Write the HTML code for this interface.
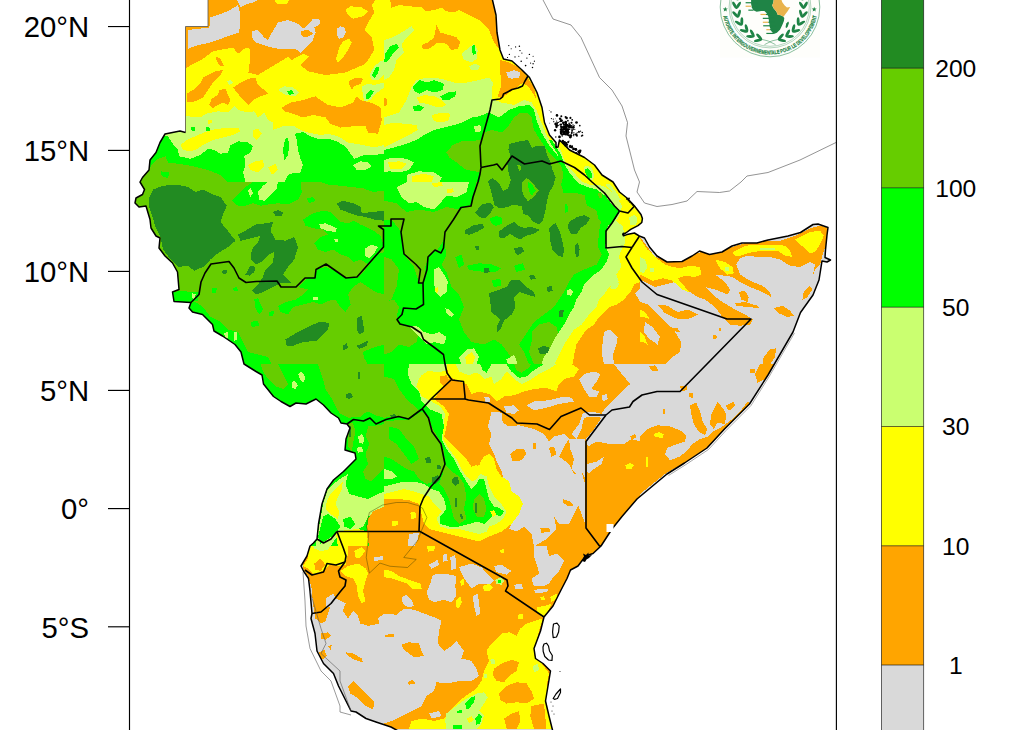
<!DOCTYPE html>
<html><head><meta charset="utf-8"><title>Rainfall map</title>
<style>
html,body{margin:0;padding:0;background:#fff}
body{width:1024px;height:730px;overflow:hidden}
svg{display:block}
text{font-family:"Liberation Sans",sans-serif;fill:#000}
</style></head><body>
<svg width="1024" height="730" viewBox="0 0 1024 730">
<rect width="1024" height="730" fill="#fff"/>
<defs><clipPath id="land"><path d="M208,-2 L208,26.5 L185.5,26.5 L185.5,132.5 L180,131 L165,134 L160,142.5 L156,152.5 L150,160 L149,170 L142.5,177.5 L140,182 L144.5,189.5 L142.5,194.5 L136,198 L135,203 L139,207 L146,206 L150,219.5 L151,228 L156,236 L160,238 L159,248 L165,256 L172.5,263 L177.5,272 L179,289.5 L172.5,292 L174,301.5 L191,302.5 L189,308 L192.5,312 L202.5,314.5 L212.5,324.5 L214,331 L222.5,336 L235,344.5 L241,352 L244,364 L256,371.5 L262,375 L263.5,384 L273.5,396.5 L281,401.5 L290,406.5 L296,403 L306,404 L316,399 L323.5,405 L331,413 L338.5,418 L341,423 L347,424 L350,428 L346,439 L345,450 L355,453 L356,459 L343.5,471.5 L333.5,480 L327,489 L322,504 L318.5,524 L317,539 L313.5,543 L310,546 L307,556 L301,566 L303.5,571 L308.5,578.5 L310,591 L312,613.5 L311,618.5 L315,633.5 L317,651 L323.5,663.5 L333.5,673.5 L338.5,686 L346,701 L351,711 L356,712 L366,718.5 L376,722 L391,727 L400,732 L553,732 L549,716 L545.5,701 L548,686 L550.5,671 L543,663.5 L535.5,658.5 L534,648.5 L540.5,631 L544,617 L553,606 L560.5,591 L567,578.5 L570.5,570 L578,566 L585.5,556 L593,553.5 L601,546 L612,529 L622,516.5 L637,499 L652,486.5 L667,474 L684.5,463 L707,448 L724.5,429 L749.5,404 L768,375 L793,332 L800.5,312.5 L813,295 L819,280 L822,261 L827,262 L830.5,260 L825,257.5 L825.5,250 L827,235 L828,227.5 L818,224 L813,224.5 L800.5,232.5 L788,236 L768,240 L757,243 L742,243 L732,246 L722,252 L709.5,254.5 L699.5,251 L692,256 L682,261.5 L667,262 L657,256 L649.5,247 L644.5,238 L639.3,236 L634.4,233 L627,234.6 L623.5,235.8 L622.7,234.2 L625.8,233 L630.7,229.3 L638,225.6 L641.8,222.5 L642.4,218.5 L641,214.5 L634.5,206 L627,198 L619.5,192 L613,182 L602,175 L594.5,165 L584.5,157.5 L569.5,150 L559.5,140 L558,147 L556,147.5 L556,142.5 L549.5,135 L544.5,122.5 L542,107.5 L537,92.5 L529.5,77.5 L522,70 L512,61 L503.5,59 L500,50 L497,32.5 L496,15 L492,-2 Z"/></clipPath><clipPath id="frame"><rect x="130" y="0" width="707" height="730"/></clipPath></defs>
<g clip-path="url(#frame)">
<path d="M208,-2 L208,26.5 L185.5,26.5 L185.5,132.5 L180,131 L165,134 L160,142.5 L156,152.5 L150,160 L149,170 L142.5,177.5 L140,182 L144.5,189.5 L142.5,194.5 L136,198 L135,203 L139,207 L146,206 L150,219.5 L151,228 L156,236 L160,238 L159,248 L165,256 L172.5,263 L177.5,272 L179,289.5 L172.5,292 L174,301.5 L191,302.5 L189,308 L192.5,312 L202.5,314.5 L212.5,324.5 L214,331 L222.5,336 L235,344.5 L241,352 L244,364 L256,371.5 L262,375 L263.5,384 L273.5,396.5 L281,401.5 L290,406.5 L296,403 L306,404 L316,399 L323.5,405 L331,413 L338.5,418 L341,423 L347,424 L350,428 L346,439 L345,450 L355,453 L356,459 L343.5,471.5 L333.5,480 L327,489 L322,504 L318.5,524 L317,539 L313.5,543 L310,546 L307,556 L301,566 L303.5,571 L308.5,578.5 L310,591 L312,613.5 L311,618.5 L315,633.5 L317,651 L323.5,663.5 L333.5,673.5 L338.5,686 L346,701 L351,711 L356,712 L366,718.5 L376,722 L391,727 L400,732 L553,732 L549,716 L545.5,701 L548,686 L550.5,671 L543,663.5 L535.5,658.5 L534,648.5 L540.5,631 L544,617 L553,606 L560.5,591 L567,578.5 L570.5,570 L578,566 L585.5,556 L593,553.5 L601,546 L612,529 L622,516.5 L637,499 L652,486.5 L667,474 L684.5,463 L707,448 L724.5,429 L749.5,404 L768,375 L793,332 L800.5,312.5 L813,295 L819,280 L822,261 L827,262 L830.5,260 L825,257.5 L825.5,250 L827,235 L828,227.5 L818,224 L813,224.5 L800.5,232.5 L788,236 L768,240 L757,243 L742,243 L732,246 L722,252 L709.5,254.5 L699.5,251 L692,256 L682,261.5 L667,262 L657,256 L649.5,247 L644.5,238 L639.3,236 L634.4,233 L627,234.6 L623.5,235.8 L622.7,234.2 L625.8,233 L630.7,229.3 L638,225.6 L641.8,222.5 L642.4,218.5 L641,214.5 L634.5,206 L627,198 L619.5,192 L613,182 L602,175 L594.5,165 L584.5,157.5 L569.5,150 L559.5,140 L558,147 L556,147.5 L556,142.5 L549.5,135 L544.5,122.5 L542,107.5 L537,92.5 L529.5,77.5 L522,70 L512,61 L503.5,59 L500,50 L497,32.5 L496,15 L492,-2 Z" fill="#d9d9d9"/>
<g clip-path="url(#land)" shape-rendering="crispEdges">
</g>
<g clip-path="url(#land)" shape-rendering="crispEdges">
<clipPath id="t0"><rect x="128" y="0" width="256" height="182"/></clipPath>
<g clip-path="url(#t0)"><g transform="translate(128,0) scale(0.25)">
<polygon points="0,0 1024,0 1024,730 0,730" fill="#ffa500"/>
<polygon points="240,120 325,110 330,70 400,45 440,20 450,60 445,130 400,145 330,170 280,180 240,195" fill="#d9d9d9"/>
<polygon points="435,0 520,0 500,10 470,18 450,28" fill="#d9d9d9"/>
<polygon points="495,125 520,120 545,150 560,160 570,140 600,90 640,80 680,95 700,115 720,100 740,75 765,75 770,95 745,110 750,130 740,160 700,200 690,210 670,195 600,195 555,185 510,170 495,150" fill="#d9d9d9"/>
<polygon points="690,125 720,118 740,135 715,150 695,145" fill="#ffa500"/>
<polygon points="835,115 850,105 865,110 872,130 860,150 845,155 835,140" fill="#d9d9d9"/>
<polygon points="235,270 300,235 340,205 420,190 440,215 465,195 485,190 490,220 482,290 520,300 570,270 640,228 655,240 700,215 725,225 690,260 720,285 790,300 870,290 940,260 960,240 985,200 975,150 945,120 960,90 990,65 1024,55 1024,730 0,730 0,400" fill="#ffff00"/>
<polygon points="845,190 860,165 885,155 895,170 880,200 860,230 840,250 832,235" fill="#ffff00"/>
<polygon points="870,40 890,25 935,30 960,45 940,65 900,75 880,60" fill="#ffff00"/>
<polygon points="960,90 1024,55 1024,0 990,0 975,20 985,50" fill="#ffff00"/>
<polygon points="585,0 645,0 635,15 600,18" fill="#ffff00"/>
<polygon points="235,375 260,360 290,330 300,310 350,285 380,280 370,300 340,330 320,360 300,390 270,405 235,410" fill="#ffa500"/>
<polygon points="325,420 335,395 360,380 365,360 390,355 400,380 410,400 400,420 380,410 360,420 340,432" fill="#ffa500"/>
<polygon points="420,350 450,330 480,315 510,310 520,340 545,360 560,375 530,385 500,400 480,420 460,400 440,375" fill="#ffa500"/>
<polygon points="615,430 650,410 700,400 750,385 770,400 800,420 850,430 900,410 915,385 930,400 985,415 1010,430 1015,480 1000,535 960,530 950,505 900,505 850,510 810,495 790,470 740,460 700,470 660,455 625,445" fill="#ffa500"/>
<polygon points="350,225 370,235 385,265 370,265 355,245" fill="#ffa500"/>
<polygon points="885,325 910,310 940,315 930,335 905,345 895,360 885,340" fill="#ffa500"/>
<polygon points="235,465 290,470 310,455 360,445 400,450 425,425 440,440 480,450 505,445 520,470 545,450 560,480 580,490 580,520 620,505 665,505 690,520 720,530 770,540 800,535 840,545 880,570 940,580 985,590 1024,580 1024,730 0,730 0,465" fill="#caff70"/>
<polygon points="600,360 625,345 660,350 685,370 670,385 630,380" fill="#caff70"/>
<polygon points="635,365 655,360 665,375 645,380" fill="#00ff00"/>
<polygon points="965,300 985,265 1010,245 1024,240 1024,300 1000,320 975,320" fill="#caff70"/>
<polygon points="975,300 990,270 1005,265 1000,295 985,312" fill="#00ff00"/>
<polygon points="935,345 960,335 985,340 1024,330 1024,350 990,375 970,400 945,405 940,380" fill="#caff70"/>
<polygon points="950,380 970,360 985,365 965,395 950,395" fill="#00ff00"/>
<polygon points="395,325 410,320 420,332 405,340" fill="#caff70"/>
<polygon points="330,520 400,510 440,510 450,525 420,540 380,550 340,560 300,580 270,600 245,605 220,600 210,580 235,560 280,540" fill="#ffff00"/>
<polygon points="500,520 520,515 535,535 515,560 500,545" fill="#ffff00"/>
<polygon points="480,660 510,645 540,640 545,665 520,690 490,680" fill="#ffff00"/>
<polygon points="560,670 590,655 600,680 575,700" fill="#ffff00"/>
<polygon points="318,480 335,478 338,492 322,495" fill="#ffff00"/>
<polygon points="252,510 268,508 270,522 255,525" fill="#00ff00"/>
<polygon points="310,510 325,508 328,522 312,526" fill="#00ff00"/>
<polygon points="100,545 160,545 175,570 200,600 205,625 250,635 290,620 320,595 345,600 370,615 400,610 410,580 440,565 480,570 500,585 490,610 465,625 470,660 460,690 470,730 0,730 0,545" fill="#00ff00"/>
<polygon points="625,730 640,700 665,690 690,690 700,660 690,635 680,600 675,560 668,535 700,528 730,545 760,555 800,555 835,565 860,580 880,600 905,635 940,622 985,620 1024,615 1024,730" fill="#00ff00"/>
<polygon points="620,600 628,555 640,550 645,590 638,625 625,640" fill="#00ff00"/>
<polygon points="900,660 930,645 960,650 975,665 950,680 915,680" fill="#caff70"/>
<polygon points="40,730 75,690 95,660 120,635 150,625 160,650 200,655 260,665 320,680 370,700 400,730" fill="#66cd00"/>
<polygon points="130,685 165,690 160,712 135,705" fill="#00ff00"/>
</g></g>
<clipPath id="t1"><rect x="384" y="0" width="256" height="182"/></clipPath>
<g clip-path="url(#t1)"><g transform="translate(384,0) scale(0.25)">
<polygon points="0,0 1024,0 1024,730 0,730" fill="#ffff00"/>
<polygon points="25,0 440,0 445,60 455,130 465,200 440,170 420,120 400,100 380,80 340,60 300,40 280,50 250,45 230,30 200,40 170,45 150,30 100,25 60,20 30,30" fill="#ffa500"/>
<polygon points="150,180 175,170 200,150 210,100 225,130 260,140 290,150 305,170 295,195 270,200 250,175 215,170 180,195 155,195" fill="#ffa500"/>
<polygon points="465,240 500,250 530,265 560,290 580,320 600,350 610,400 600,380 580,350 555,330 530,350 500,370 470,395 455,385 470,340 465,290" fill="#ffa500"/>
<polygon points="490,290 520,280 545,290 540,310 510,315 495,310" fill="#d9d9d9"/>
<polygon points="0,390 10,395 10,420 0,425" fill="#ffa500"/>
<polygon points="0,160 30,150 70,130 110,105 120,120 90,150 70,180 80,210 50,240 40,280 20,310 0,320" fill="#caff70"/>
<polygon points="5,215 25,185 50,175 60,190 35,215 15,245 0,250" fill="#00ff00"/>
<polygon points="310,215 340,190 360,175 375,200 370,235 350,250 320,240" fill="#caff70"/>
<polygon points="350,185 362,180 368,215 355,220" fill="#00ff00"/>
<polygon points="340,265 365,255 385,265 375,280 350,280" fill="#caff70"/>
<polygon points="0,470 30,460 60,450 90,400 110,350 130,320 170,310 230,315 280,330 330,330 380,320 420,310 435,330 430,395 470,410 520,420 560,400 590,410 610,440 625,480 650,540 680,590 710,620 760,650 800,680 830,710 850,730 0,730" fill="#caff70"/>
<polygon points="115,345 140,320 175,330 200,320 240,335 235,360 200,370 170,360 140,375 120,365" fill="#00ff00"/>
<polygon points="225,385 255,370 290,365 285,385 260,400 235,400" fill="#00ff00"/>
<polygon points="115,425 140,420 160,430 145,445 120,445" fill="#00ff00"/>
<polygon points="130,390 160,380 200,385 230,400 250,420 225,430 200,425 170,415 140,410" fill="#ffff00"/>
<polygon points="190,460 230,450 265,455 260,480 230,490 200,485" fill="#ffff00"/>
<polygon points="0,500 40,490 80,495 130,500 135,520 100,540 60,560 20,580 0,590" fill="#ffff00"/>
<polygon points="0,600 40,590 90,575 130,560 160,540 200,520 240,510 280,500 310,490 350,470 380,465 420,450 460,470 500,440 540,425 580,420 600,440 610,480 630,530 660,580 700,630 740,660 770,690 790,730 0,730" fill="#00ff00"/>
<polygon points="0,640 30,630 90,635 120,650 100,680 60,690 20,685 0,690" fill="#caff70"/>
<polygon points="15,650 60,645 90,655 70,675 25,675" fill="#ffff00"/>
<polygon points="90,700 140,685 200,690 230,710 220,730 90,730" fill="#caff70"/>
<polygon points="110,705 160,695 200,705 190,730 110,730" fill="#ffff00"/>
<polygon points="360,505 385,500 390,525 365,530" fill="#caff70"/>
<polygon points="250,610 275,580 310,565 350,565 390,558 390,690 330,680 290,650 260,630" fill="#66cd00"/>
<polygon points="390,558 400,530 430,520 470,530 500,500 520,470 545,450 570,450 590,470 600,520 625,560 660,610 690,640 720,680 740,730 385,730" fill="#66cd00"/>
<polygon points="800,685 820,675 835,700 820,720 805,710" fill="#caff70"/>
</g></g>
<clipPath id="t2"><rect x="128" y="182" width="256" height="182"/></clipPath>
<g clip-path="url(#t2)"><g transform="translate(128,182) scale(0.25)">
<polygon points="0,0 1024,0 1024,730 0,730" fill="#66cd00"/>
<polygon points="415,75 440,50 470,20 500,0 690,0 695,40 680,70 640,90 600,85 560,90 530,95 500,85 470,95 440,95" fill="#00ff00"/>
<polygon points="480,35 490,25 500,45 490,60" fill="#caff70"/>
<polygon points="520,40 540,15 560,0 600,0 595,25 570,50 545,75 525,70" fill="#caff70"/>
<polygon points="770,0 1024,0 1024,35 980,40 940,25 890,20 850,15 800,10" fill="#00ff00"/>
<polygon points="715,65 740,60 750,75 725,85" fill="#00ff00"/>
<polygon points="700,150 740,125 780,115 810,120 830,140 850,160 880,165 905,155 930,170 960,185 990,200 1010,215 1024,260 1000,290 960,330 930,310 900,320 880,300 850,290 820,270 790,280 760,270 745,245 770,220 800,210 780,190 740,185 710,175" fill="#00ff00"/>
<polygon points="765,170 790,165 835,185 830,200 795,195 770,185" fill="#caff70"/>
<polygon points="825,230 840,228 842,240 828,242" fill="#caff70"/>
<polygon points="950,265 975,250 1000,260 985,285 965,305 948,295" fill="#caff70"/>
<polygon points="680,420 720,380 750,380 755,350 790,340 830,355 870,385 915,385 950,350 1000,290 1024,280 1024,450 990,440 960,420 930,400 900,420 880,450 890,490 870,520 850,500 830,470 800,475 770,490 740,480 700,490 660,500 640,530 610,520 600,495 630,480 670,470 700,450 720,430" fill="#00ff00"/>
<polygon points="740,462 760,458 762,470 742,473" fill="#caff70"/>
<polygon points="180,440 215,435 250,440 285,440 280,475 250,480 185,478" fill="#00ff00"/>
<polygon points="255,445 270,450 268,468 255,465" fill="#caff70"/>
<polygon points="245,485 270,480 300,500 330,540 370,560 400,590 440,600 460,640 480,680 520,690 560,700 575,730 470,730 440,680 400,640 340,600 300,540 250,510" fill="#00ff00"/>
<polygon points="385,605 398,600 400,625 388,628" fill="#caff70"/>
<polygon points="425,600 438,598 436,630 425,635" fill="#caff70"/>
<polygon points="335,425 355,425 352,445 335,442" fill="#00ff00"/>
<polygon points="420,425 435,418 440,435 425,438" fill="#00ff00"/>
<polygon points="505,470 520,465 540,510 525,530 510,505" fill="#00ff00"/>
<polygon points="565,520 585,515 580,535 565,538" fill="#00ff00"/>
<polygon points="490,560 520,555 525,575 495,580" fill="#00ff00"/>
<polygon points="940,680 975,665 1024,650 1024,730 960,730 945,705" fill="#00ff00"/>
<polygon points="85,60 100,30 140,15 190,10 240,20 270,40 300,30 340,50 370,60 395,95 380,130 370,160 395,190 430,235 400,260 360,285 330,310 300,340 265,355 240,335 200,340 170,310 140,270 130,220 110,180 95,130 85,100" fill="#228b22"/>
<polygon points="440,210 470,195 510,170 550,165 580,160 570,195 590,230 630,235 665,220 680,260 665,310 640,340 620,370 655,405 610,405 580,420 540,440 510,450 495,435 520,410 540,380 550,350 580,320 585,280 565,290 540,315 510,330 490,310 495,270 520,240 530,215 490,225 450,235" fill="#228b22"/>
<polygon points="470,370 490,335 510,340 505,360 485,375" fill="#228b22"/>
<polygon points="835,85 860,75 900,85 930,100 935,125 975,120 1024,115 1024,155 985,150 950,140 920,135 890,125 850,110" fill="#228b22"/>
<polygon points="580,120 600,112 622,122 615,135 590,135" fill="#228b22"/>
<polygon points="630,630 680,600 730,575 770,558 805,565 800,590 775,615 755,635 700,640 660,655 635,655" fill="#228b22"/>
<polygon points="915,545 935,535 940,560 945,600 925,610 915,590" fill="#228b22"/>
<polygon points="860,655 875,645 880,665 862,672" fill="#228b22"/>
<polygon points="915,655 960,635 955,655 925,668" fill="#228b22"/>
<polygon points="375,355 395,352 395,365 380,368" fill="#228b22"/>
</g></g>
<clipPath id="t3"><rect x="384" y="182" width="256" height="182"/></clipPath>
<g clip-path="url(#t3)"><g transform="translate(384,182) scale(0.25)">
<polygon points="0,0 1024,0 1024,730 0,730" fill="#66cd00"/>
<polygon points="0,0 370,0 350,90 300,110 260,180 240,230 250,290 230,330 250,360 270,420 300,450 320,500 300,550 320,600 350,640 400,650 440,630 470,650 500,690 520,730 0,730" fill="#00ff00"/>
<polygon points="0,75 50,85 90,120 140,110 200,120 250,100 300,110 260,180 240,230 215,270 180,290 165,340 160,400 140,405 120,340 80,290 70,200 30,150 0,150" fill="#66cd00"/>
<polygon points="0,480 40,470 60,500 50,540 60,570 100,580 140,600 130,640 100,660 60,650 30,680 0,690" fill="#66cd00"/>
<polygon points="0,300 30,310 60,350 50,420 30,470 0,480" fill="#66cd00"/>
<polygon points="50,20 90,0 340,0 330,40 290,60 250,55 220,90 200,110 160,100 130,80 100,85 70,60" fill="#caff70"/>
<polygon points="190,5 230,0 235,15 200,20" fill="#ffff00"/>
<polygon points="250,30 275,25 280,40 255,45" fill="#ffff00"/>
<polygon points="200,350 220,340 240,370 255,400 250,440 225,460 205,440 200,400" fill="#caff70"/>
<polygon points="205,425 215,420 218,440 207,445" fill="#ffff00"/>
<polygon points="245,505 260,510 280,530 270,540 250,525" fill="#caff70"/>
<polygon points="100,580 130,575 160,600 190,610 220,600 250,620 240,650 200,640 170,650 140,620" fill="#caff70"/>
<polygon points="300,700 330,670 360,665 380,700 370,730 310,730" fill="#caff70"/>
<polygon points="325,700 350,680 365,700 355,730 330,730" fill="#ffff00"/>
<polygon points="490,710 520,690 535,730 495,730" fill="#caff70"/>
<polygon points="330,335 380,325 430,330 470,345 440,362 390,358 340,352" fill="#00ff00"/>
<polygon points="520,335 555,325 565,350 530,360" fill="#00ff00"/>
<polygon points="430,392 465,388 470,415 440,420" fill="#00ff00"/>
<polygon points="285,300 310,290 320,330 300,345" fill="#00ff00"/>
<polygon points="830,0 860,50 880,100 870,150 860,200 855,260 870,290 850,330 800,350 760,370 740,400 720,440 700,470 680,500 640,530 600,560 580,590 560,620 540,650 560,680 580,730 1024,730 1024,0" fill="#00ff00"/>
<polygon points="590,600 620,570 660,560 690,580 700,620 680,660 690,700 660,730 600,730 580,680 590,640" fill="#66cd00"/>
<polygon points="850,0 880,40 910,80 930,110 900,150 890,200 885,260 900,290 890,320 870,350 840,370 800,410 790,440 770,470 760,500 740,530 720,570 700,600 680,630 660,670 640,700 630,730 1024,730 1024,0" fill="#caff70"/>
<polygon points="730,435 745,428 757,440 748,455 733,452" fill="#caff70"/>
<polygon points="905,0 930,40 960,90 940,120 950,160 960,200 965,240 950,270 940,300 950,340 930,370 940,400 900,420 880,450 860,470 850,500 820,530 790,570 760,590 740,620 720,650 700,690 680,730 1024,730 1024,0" fill="#ffff00"/>
<polygon points="910,400 930,390 940,410 925,430 905,425" fill="#caff70"/>
<polygon points="1024,400 1000,410 985,440 960,470 930,490 900,500 880,520 860,540 840,570 810,590 790,620 770,650 760,690 755,730 1024,730" fill="#ffa500"/>
<polygon points="1024,425 1005,445 1024,480" fill="#d9d9d9"/>
<polygon points="880,600 900,590 915,600 935,620 930,650 915,690 920,730 880,730 870,680 875,640" fill="#d9d9d9"/>
<polygon points="420,445 450,435 490,420 510,390 540,390 570,420 600,440 605,460 570,450 540,440 520,460 525,500 510,530 480,555 465,590 450,605 450,580 465,550 430,520 425,480" fill="#228b22"/>
<polygon points="650,420 670,415 675,435 655,440" fill="#228b22"/>
<polygon points="700,515 720,510 715,540 700,540" fill="#228b22"/>
<polygon points="615,665 640,655 662,662 655,685 625,690" fill="#228b22"/>
<polygon points="400,345 418,345 420,360 402,362" fill="#228b22"/>
</g></g>
<clipPath id="t4"><rect x="640" y="182" width="256" height="182"/></clipPath>
<g clip-path="url(#t4)"><g transform="translate(640,182) scale(0.25)">
<polygon points="0,0 1024,0 1024,730 0,730" fill="#d9d9d9"/>
<polygon points="0,220 60,300 130,320 200,290 250,280 300,290 370,260 420,245 500,235 560,235 620,215 680,185 720,175 755,185 745,250 730,290 720,330 700,350 690,380 700,330 680,320 640,340 600,335 560,310 520,300 470,300 430,295 400,305 385,330 400,370 440,395 490,415 520,440 525,460 490,440 440,420 400,400 370,380 340,375 300,370 340,400 360,430 350,450 300,430 260,420 290,450 330,480 380,510 420,530 450,550 440,570 400,575 360,570 330,540 300,500 260,470 230,460 200,440 170,420 140,400 100,410 60,420 20,400 0,390" fill="#ffa500"/>
<polygon points="0,225 30,270 60,300 100,330 130,340 160,345 200,335 240,340 245,370 220,380 180,375 150,385 180,420 200,445 170,430 130,395 90,385 50,395 20,380 0,370" fill="#ffff00"/>
<polygon points="370,280 420,255 480,250 540,250 580,255 600,275 610,300 580,295 550,275 500,275 450,280 400,295 380,295" fill="#ffff00"/>
<polygon points="620,230 680,200 720,195 735,215 720,250 700,280 680,285 660,265 640,250" fill="#ffff00"/>
<polygon points="300,310 340,320 370,340 375,365 350,370 320,345" fill="#ffff00"/>
<polygon points="0,300 20,310 30,340 15,365 0,360" fill="#caff70"/>
<polygon points="40,345 55,345 55,360 40,360" fill="#caff70"/>
<polygon points="480,262 540,262 540,272 480,272" fill="#caff70"/>
<polygon points="340,340 355,340 355,355 340,355" fill="#caff70"/>
<polygon points="395,440 420,435 435,460 430,480 405,470" fill="#ffa500"/>
<polygon points="380,485 420,480 470,495 480,505 430,500 385,495" fill="#ffa500"/>
<polygon points="535,505 570,495 600,515 615,535 590,540 555,525" fill="#ffa500"/>
<polygon points="655,440 680,415 690,430 670,460 650,470" fill="#ffa500"/>
<polygon points="495,700 520,670 545,665 540,700 520,730 490,730" fill="#ffa500"/>
<polygon points="0,480 30,490 60,520 100,560 140,600 165,640 160,680 130,700 100,730 0,730" fill="#ffa500"/>
<polygon points="20,560 50,580 80,620 70,650 40,630 15,600" fill="#d9d9d9"/>
<polygon points="70,490 110,495 150,520 190,510 230,530 200,545 170,550 140,545 100,525" fill="#ffa500"/>
<polygon points="110,580 150,585 160,600 120,595" fill="#ffa500"/>
<polygon points="0,600 20,620 30,650 10,640 0,640" fill="#ffff00"/>
<polygon points="0,510 20,520 40,550 15,540 0,540" fill="#ffff00"/>
<polygon points="290,615 305,610 308,625 293,628" fill="#ffa500"/>
<polygon points="315,585 325,583 325,595 315,597" fill="#ffa500"/>
</g></g>
<clipPath id="t5"><rect x="128" y="364" width="256" height="182"/></clipPath>
<g clip-path="url(#t5)"><g transform="translate(128,364) scale(0.25)">
<polygon points="0,0 1024,0 1024,730 0,730" fill="#00ff00"/>
<polygon points="530,0 600,0 620,40 640,80 620,100 590,90 560,60 540,30" fill="#66cd00"/>
<polygon points="760,0 1024,0 1024,215 990,205 960,190 940,200 930,210 880,215 850,200 830,170 810,130 790,100 780,60 770,30" fill="#66cd00"/>
<polygon points="655,75 665,65 680,85 670,100 658,95" fill="#caff70"/>
<polygon points="680,40 695,30 710,55 700,75 688,60" fill="#caff70"/>
<polygon points="870,120 890,115 900,130 885,140 872,135" fill="#228b22"/>
<polygon points="918,35 928,30 930,60 920,62" fill="#228b22"/>
<polygon points="880,240 900,235 910,270 900,320 895,350 880,330 878,280" fill="#66cd00"/>
<polygon points="885,248 893,246 893,290 886,292" fill="#228b22"/>
<polygon points="960,250 1000,245 1024,240 1024,420 1000,440 970,470 950,460 940,430 960,400 950,360 965,320 950,290" fill="#66cd00"/>
<polygon points="920,290 935,280 945,300 940,320 925,315" fill="#caff70"/>
<polygon points="915,335 935,330 940,350 920,355" fill="#caff70"/>
<polygon points="800,500 840,465 880,440 870,480 885,520 920,530 960,540 1000,520 1024,510 1024,600 960,610 940,650 900,670 850,670 830,700 810,730 750,730 770,620 780,560" fill="#caff70"/>
<polygon points="810,520 840,490 860,470 855,500 840,530 830,560 845,590 840,620 810,600 790,580 795,550" fill="#ffff00"/>
<polygon points="780,610 800,600 830,620 850,650 830,680 800,700 770,720 760,690 770,650" fill="#00ff00"/>
<polygon points="860,620 890,610 910,640 890,660 865,650" fill="#00ff00"/>
<polygon points="830,670 870,665 920,660 960,670 960,730 840,730 835,700" fill="#ffff00"/>
<polygon points="960,620 980,590 1024,570 1024,730 965,730 955,680" fill="#ffa500"/>
</g></g>
<clipPath id="t6"><rect x="384" y="364" width="256" height="182"/></clipPath>
<g clip-path="url(#t6)"><g transform="translate(384,364) scale(0.25)">
<polygon points="0,0 1024,0 1024,730 0,730" fill="#ffa500"/>
<polygon points="430,190 470,195 475,235 500,250 540,245 600,260 640,280 660,310 680,290 720,280 740,300 720,330 700,370 740,400 760,440 790,430 800,470 790,520 780,560 760,600 740,640 700,640 680,610 690,660 650,700 600,730 590,680 560,650 530,670 500,660 520,620 550,570 540,540 510,540 500,500 480,470 470,430 455,400 440,360 420,320 430,280 415,250" fill="#d9d9d9"/>
<polygon points="505,360 530,340 560,340 570,360 550,385 515,390" fill="#ffa500"/>
<polygon points="715,540 745,550 760,565 740,570 715,555" fill="#ffa500"/>
<polygon points="625,655 660,655 665,672 630,675" fill="#ffa500"/>
<polygon points="595,315 608,315 610,340 598,340" fill="#ffa500"/>
<polygon points="660,335 680,330 690,360 670,370" fill="#ffa500"/>
<polygon points="920,0 1024,0 1024,310 990,300 960,320 900,320 850,310 815,330 808,300 840,260 870,215 840,210 800,215 790,260 770,300 750,280 780,240 795,195 830,190 870,200 890,170 920,140 960,100 985,80 960,50 935,20" fill="#d9d9d9"/>
<polygon points="985,290 1005,280 1010,295 990,300" fill="#ffa500"/>
<polygon points="570,165 600,150 660,145 720,130 750,135 760,150 700,160 650,175 600,185" fill="#d9d9d9"/>
<polygon points="480,170 520,165 540,185 520,200 490,195" fill="#d9d9d9"/>
<polygon points="780,60 800,40 840,30 865,40 850,70 830,100 860,110 850,130 820,130 800,100 790,80" fill="#d9d9d9"/>
<polygon points="870,125 890,120 895,140 875,150" fill="#d9d9d9"/>
<polygon points="400,130 420,130 425,150 405,150" fill="#d9d9d9"/>
<polygon points="810,400 850,390 880,370 870,400 840,420 815,440" fill="#d9d9d9"/>
<polygon points="740,300 805,300 805,460 790,430 770,440 750,420 760,380 745,340" fill="#d9d9d9"/>
<polygon points="100,680 140,675 135,700 120,730 95,730" fill="#d9d9d9"/>
<polygon points="780,480 805,470 805,640 790,600 775,560" fill="#d9d9d9"/>
<polygon points="250,0 258,50 290,66 330,80 350,120 380,110 420,120 450,150 480,130 520,125 560,110 600,100 650,95 690,110 700,80 720,60 760,50 780,20 750,0" fill="#ffff00"/>
<polygon points="285,0 300,30 340,45 365,35 380,40 400,60 430,50 440,80 470,60 490,30 520,60 550,80 590,60 620,40 660,20 690,0" fill="#caff70"/>
<polygon points="385,0 395,25 410,35 425,10 430,0" fill="#00ff00"/>
<polygon points="490,0 510,30 540,55 570,50 600,25 640,0" fill="#00ff00"/>
<polygon points="520,0 530,25 550,35 580,15 590,0" fill="#66cd00"/>
<polygon points="150,0 240,0 260,60 230,100 200,140 240,170 260,200 250,250 240,290 270,320 300,350 330,380 350,410 380,400 400,370 420,360 440,380 450,420 470,450 500,470 510,510 540,530 555,560 540,600 510,640 470,670 420,690 380,710 340,700 300,690 260,680 220,670 180,660 160,640 150,600 140,560 100,545 60,540 0,540 0,0" fill="#ffff00"/>
<polygon points="225,50 250,45 265,70 240,90 225,75" fill="#ffa500"/>
<polygon points="370,375 385,365 385,400 372,410" fill="#ffa500"/>
<polygon points="100,0 252,0 250,28 215,32 175,28 150,45 140,60 130,90 150,130 190,150 225,170 245,200 235,260 235,300 260,340 290,380 310,420 330,450 350,470 370,460 385,440 410,450 420,490 440,530 470,560 490,590 475,620 450,640 420,650 410,670 380,680 340,670 300,660 260,660 225,650 210,620 230,590 200,560 180,530 150,520 120,510 80,500 40,510 0,520 0,0" fill="#caff70"/>
<polygon points="60,0 100,0 95,40 110,80 140,110 150,150 180,180 230,200 240,250 230,300 250,340 280,380 300,420 330,470 350,500 370,480 380,460 400,460 410,500 420,540 440,570 460,575 480,590 465,610 440,600 420,620 400,640 370,630 340,640 300,650 260,650 225,640 225,610 250,580 240,540 220,510 190,500 160,480 120,470 80,470 40,480 0,490 0,0" fill="#00ff00"/>
<polygon points="425,590 440,585 450,602 435,612" fill="#ffff00"/>
<polygon points="0,420 30,430 50,450 30,460 0,460" fill="#caff70"/>
<polygon points="0,50 40,60 60,100 90,140 140,185 100,215 40,210 0,215" fill="#66cd00"/>
<polygon points="0,230 50,225 100,222 150,190 180,210 190,250 220,300 240,350 245,400 230,440 200,470 170,480 140,460 120,430 90,420 60,400 30,380 0,370" fill="#66cd00"/>
<polygon points="20,250 60,260 90,300 120,330 140,380 110,400 80,360 50,320 20,300" fill="#00ff00"/>
<polygon points="240,400 270,430 300,450 320,480 330,530 320,580 330,620 300,640 280,620 270,580 260,540 240,500 220,480 235,440" fill="#66cd00"/>
<polygon points="360,540 380,520 400,540 410,580 400,610 370,610 355,580" fill="#66cd00"/>
<polygon points="165,375 185,372 188,395 168,398" fill="#228b22"/>
<polygon points="210,405 225,402 228,420 212,422" fill="#228b22"/>
<polygon points="190,455 215,445 225,460 205,480 190,475" fill="#228b22"/>
<polygon points="275,455 295,452 302,475 285,488 272,475" fill="#228b22"/>
<polygon points="285,535 293,535 293,570 286,570" fill="#228b22"/>
<polygon points="305,600 313,598 315,620 307,622" fill="#228b22"/>
<polygon points="362,555 370,555 370,595 363,595" fill="#228b22"/>
<polygon points="25,205 45,200 50,212 30,215" fill="#228b22"/>
<polygon points="0,560 40,555 80,560 120,565 140,580 145,620 150,660 200,690 250,710 280,730 0,730" fill="#ffa500"/>
<polygon points="105,595 125,590 130,615 110,620" fill="#ffff00"/>
<polygon points="30,630 55,628 55,645 30,648" fill="#ffff00"/>
<polygon points="100,680 140,675 135,700 120,730 95,730" fill="#d9d9d9"/>
<polygon points="965,405 985,395 1000,405 990,420 970,420" fill="#ffff00"/>
</g></g>
<clipPath id="t7"><rect x="640" y="364" width="256" height="182"/></clipPath>
<g clip-path="url(#t7)"><g transform="translate(640,364) scale(0.25)">
<polygon points="0,0 1024,0 1024,730 0,730" fill="#d9d9d9"/>
<polygon points="0,290 30,260 70,245 120,250 160,265 185,285 180,310 150,320 110,335 100,360 120,385 160,370 190,345 210,320 240,300 270,290 290,270 330,250 370,220 400,190 430,150 445,160 400,220 350,270 300,310 250,350 200,385 150,410 100,440 50,480 0,520" fill="#ffa500"/>
<polygon points="200,165 225,155 240,190 250,230 270,260 260,285 235,270 215,240 205,200" fill="#ffa500"/>
<polygon points="285,200 310,150 330,175 345,200 340,240 310,235 295,260 280,240" fill="#ffa500"/>
<polygon points="345,165 375,150 380,165 360,185 348,180" fill="#ffa500"/>
<polygon points="460,40 480,0 540,0 500,60 470,75" fill="#ffa500"/>
<polygon points="35,10 60,5 75,25 50,30" fill="#ffa500"/>
<polygon points="440,20 460,18 460,35 442,35" fill="#ffa500"/>
<polygon points="160,90 185,85 190,105 165,108" fill="#ffa500"/>
<polygon points="195,115 210,115 210,135 197,133" fill="#ffa500"/>
<polygon points="92,180 100,180 100,200 92,200" fill="#ffa500"/>
<polygon points="55,280 75,272 95,282 90,295 60,293" fill="#ffff00"/>
<polygon points="25,370 32,370 32,410 25,410" fill="#ffff00"/>
</g></g>
<clipPath id="t8"><rect x="128" y="546" width="256" height="184"/></clipPath>
<g clip-path="url(#t8)"><g transform="translate(128,546) scale(0.25)">
<polygon points="0,0 1024,0 1024,730 0,730" fill="#d9d9d9"/>
<polygon points="700,0 1024,0 1024,270 1000,290 1005,310 960,320 930,310 920,280 900,260 880,290 860,260 870,230 850,220 830,210 810,240 800,270 790,300 770,310 750,290 740,230 735,170 720,120 700,90" fill="#ffa500"/>
<polygon points="790,210 820,190 830,210 810,240 790,250" fill="#d9d9d9"/>
<polygon points="715,0 880,0 878,40 870,75 840,80 810,70 790,90 760,110 740,110 720,90 700,80 720,50" fill="#ffff00"/>
<polygon points="745,70 770,50 790,75 770,100 750,95" fill="#ffa500"/>
<polygon points="740,0 810,0 800,15 770,20 745,10" fill="#caff70"/>
<polygon points="880,80 920,70 950,90 960,110 950,140 940,180 950,220 935,230 920,200 915,160 900,130 870,120 850,100" fill="#ffff00"/>
<polygon points="905,20 935,5 950,20 925,50 910,45" fill="#ffff00"/>
<polygon points="770,350 800,345 812,360 790,375 772,370" fill="#ffa500"/>
<polygon points="765,425 785,415 795,440 780,455 768,445" fill="#ffa500"/>
<polygon points="800,400 815,395 810,415" fill="#ffa500"/>
<polygon points="870,425 900,430 935,450 940,465 905,455 875,435" fill="#ffa500"/>
<polygon points="880,560 900,540 930,570 960,600 985,625 980,655 950,640 920,610 890,590" fill="#ffa500"/>
<polygon points="985,45 1020,40 1020,55 985,60" fill="#d9d9d9"/>
</g></g>
<clipPath id="t9"><rect x="384" y="546" width="256" height="184"/></clipPath>
<g clip-path="url(#t9)"><g transform="translate(384,546) scale(0.25)">
<polygon points="0,0 1024,0 1024,730 0,730" fill="#ffa500"/>
<polygon points="0,270 50,275 80,250 120,255 160,270 200,285 230,300 220,340 215,390 240,420 270,400 290,380 320,420 310,450 350,460 370,490 380,520 350,540 300,540 250,550 210,545 200,580 170,600 150,640 110,660 70,680 30,700 0,710" fill="#d9d9d9"/>
<polygon points="70,395 100,385 140,390 150,420 160,440 120,445 100,430 80,415" fill="#ffa500"/>
<polygon points="5,355 40,352 40,362 5,364" fill="#ffa500"/>
<polygon points="95,545 115,535 125,550 100,555" fill="#ffa500"/>
<polygon points="170,185 185,150 195,115 240,110 290,120 285,160 290,200 270,225 240,215 200,225 180,215" fill="#d9d9d9"/>
<polygon points="70,205 90,195 110,215 120,240 95,245 75,230" fill="#d9d9d9"/>
<polygon points="300,85 350,70 390,85 420,120 440,140 420,155 380,150 350,170 320,130" fill="#d9d9d9"/>
<polygon points="355,200 375,190 385,270 370,280 360,240" fill="#d9d9d9"/>
<polygon points="440,80 470,75 510,100 490,115 450,105" fill="#d9d9d9"/>
<polygon points="520,155 550,150 555,170 525,172" fill="#d9d9d9"/>
<polygon points="600,0 650,0 660,40 690,30 720,60 700,100 680,120 660,150 640,160 600,160 590,130 620,110 610,70 600,40" fill="#d9d9d9"/>
<polygon points="600,175 660,170 650,185 605,188" fill="#d9d9d9"/>
<polygon points="265,45 285,35 290,90 270,95" fill="#d9d9d9"/>
<polygon points="235,35 250,30 255,60 238,62" fill="#d9d9d9"/>
<polygon points="180,75 215,55 220,75 190,90" fill="#d9d9d9"/>
<polygon points="180,670 220,660 230,680 190,690" fill="#d9d9d9"/>
<polygon points="470,350 500,345 530,360 545,330 570,310 600,300 635,290 620,340 605,400 600,440 630,470 660,510 650,560 650,620 660,680 680,730 100,730 110,700 150,690 200,700 240,690 270,650 300,620 340,590 370,570 390,540 400,500 420,460 410,420 430,390 450,370" fill="#ffff00"/>
<polygon points="440,490 470,470 510,455 540,465 530,500 500,520 480,545 450,540 435,515" fill="#ffa500"/>
<polygon points="460,590 490,560 530,545 570,550 590,580 600,610 570,630 530,625 490,630 465,615" fill="#ffa500"/>
<polygon points="480,690 510,670 540,660 545,700 530,730 490,730" fill="#ffa500"/>
<polygon points="590,640 640,630 650,730 600,730 585,680" fill="#ffa500"/>
<polygon points="250,670 290,640 330,610 370,590 400,585 415,605 400,630 380,660 400,680 390,710 370,730 250,730 245,700" fill="#caff70"/>
<polygon points="325,630 350,605 365,600 360,625 340,650 328,650" fill="#00ff00"/>
<polygon points="365,690 380,670 392,680 385,710 370,715" fill="#00ff00"/>
<polygon points="290,660 310,655 310,668 290,670" fill="#00ff00"/>
<polygon points="275,715 310,715 310,730 275,730" fill="#00ff00"/>
<polygon points="330,690 350,680 360,695 340,710" fill="#ffff00"/>
<polygon points="595,480 615,470 620,495 600,505" fill="#caff70"/>
<polygon points="425,455 440,450 445,470 428,472" fill="#caff70"/>
<polygon points="400,510 412,510 412,528 400,528" fill="#caff70"/>
<polygon points="0,95 30,100 60,120 100,135 145,150 150,170 110,170 90,150 60,140 30,130 0,125" fill="#ffff00"/>
<polygon points="170,0 205,0 200,20 178,22" fill="#ffff00"/>
<polygon points="290,215 305,200 312,225 300,250 288,245" fill="#ffff00"/>
<polygon points="305,140 318,130 320,155 308,160" fill="#ffff00"/>
<polygon points="395,160 420,150 435,165 420,180 400,178" fill="#ffff00"/>
<polygon points="465,15 480,12 482,28 467,30" fill="#ffff00"/>
<polygon points="610,245 640,240 670,230 650,270 630,285 615,270" fill="#ffff00"/>
<polygon points="625,205 640,200 645,215 628,218" fill="#ffff00"/>
<polygon points="665,205 690,190 690,210 670,225" fill="#ffff00"/>
<polygon points="535,275 555,272 558,290 538,292" fill="#ffff00"/>
<polygon points="445,135 465,125 482,140 470,155 450,152" fill="#caff70"/>
<polygon points="455,138 468,135 470,147 457,148" fill="#00ff00"/>
</g></g>
<clipPath id="t10"><rect x="440" y="140" width="200" height="142"/></clipPath>
<g clip-path="url(#t10)"><g transform="translate(440,140) scale(0.195312)">
<polygon points="355,20 400,8 450,0 470,40 500,28 535,30 548,75 565,110 575,150 592,190 580,235 560,265 548,310 540,360 528,410 505,432 478,418 452,388 428,378 418,340 380,330 340,345 300,350 278,330 268,290 258,250 245,212 268,195 300,218 322,262 348,250 362,205 350,160 345,120 360,80 350,50" fill="#228b22"/>
<polygon points="420,215 445,195 470,215 505,258 482,292 450,312 430,290 418,255" fill="#66cd00"/>
<polygon points="448,215 470,225 490,260 470,285 455,260" fill="#00ff00"/>
<polygon points="395,130 410,125 418,150 405,160" fill="#66cd00"/>
<polygon points="180,370 215,330 260,320 275,345 255,380 230,400 200,395" fill="#228b22"/>
<polygon points="130,460 175,435 220,430 225,450 190,470 150,485 130,480" fill="#228b22"/>
<polygon points="300,470 340,440 380,420 400,440 430,450 470,445 510,460 480,480 440,490 410,510 390,500 360,480 330,500 305,500" fill="#228b22"/>
<polygon points="560,450 590,425 610,460 625,510 635,560 630,600 600,590 575,560 562,510" fill="#228b22"/>
<polygon points="660,420 700,395 740,385 770,400 750,430 720,450 700,480 670,480 655,450" fill="#228b22"/>
<polygon points="690,540 705,525 715,560 710,595 695,600" fill="#228b22"/>
<polygon points="380,555 420,545 430,570 400,590 385,580" fill="#228b22"/>
<polygon points="225,660 245,655 255,675 235,685" fill="#228b22"/>
<polygon points="180,545 200,540 200,560 185,565" fill="#228b22"/>
<polygon points="455,695 480,690 490,710 465,715" fill="#228b22"/>
<polygon points="255,400 290,390 320,400 315,430 285,440 262,425" fill="#00ff00"/>
<polygon points="640,330 652,325 655,370 642,372" fill="#00ff00"/>
</g></g>
<clipPath id="t11"><rect x="540" y="140" width="120" height="85"/></clipPath>
<g clip-path="url(#t11)"><g transform="translate(540,140) scale(0.117192)">
<polygon points="75,0 110,60 150,120 175,200 200,300 180,380 200,450 300,450 380,470 400,560 480,600 500,680 560,730 1024,730 1024,0" fill="#00ff00"/>
<polygon points="100,0 140,60 180,130 200,185 250,280 330,370 400,400 480,420 560,480 620,560 680,610 640,680 600,730 1024,730 1024,0" fill="#caff70"/>
<polygon points="125,0 170,70 215,190 300,290 350,350 420,380 540,390 600,430 650,490 700,560 680,640 650,690 700,730 1024,730 1024,0" fill="#ffff00"/>
<polygon points="370,240 400,215 440,240 465,300 450,340 420,340" fill="#caff70"/>
<polygon points="380,250 410,240 440,280 445,320 420,330 395,300" fill="#00ff00"/>
<polygon points="560,380 590,370 640,430 690,510 670,520 620,450" fill="#caff70"/>
<polygon points="760,660 800,640 830,660 820,730 770,730" fill="#caff70"/>
<polygon points="495,455 525,450 530,490 505,500" fill="#66cd00"/>
</g></g>
</g>
<path d="M208,-2 L208,26.5 L185.5,26.5 L185.5,132.5" fill="none" stroke="#555" stroke-width="0.8" stroke-linejoin="round"/>
<path d="M185.5,132.5 L180,131 L165,134 L160,142.5 L156,152.5 L150,160 L149,170 L142.5,177.5 L140,182 L144.5,189.5 L142.5,194.5 L136,198 L135,203 L139,207 L146,206 L150,219.5 L151,228 L156,236 L160,238 L159,248 L165,256 L172.5,263 L177.5,272 L179,289.5 L172.5,292 L174,301.5 L191,302.5 L189,308 L192.5,312 L202.5,314.5 L212.5,324.5 L214,331 L222.5,336 L235,344.5 L241,352 L244,364 L256,371.5 L262,375 L263.5,384 L273.5,396.5 L281,401.5 L290,406.5 L296,403 L306,404 L316,399 L323.5,405 L331,413 L338.5,418 L341,423 L347,424 L350,428 L346,439 L345,450 L355,453 L356,459 L343.5,471.5 L333.5,480 L327,489 L322,504 L318.5,524 L317,539 L313.5,543 L310,546 L307,556 L301,566 L303.5,571 L308.5,578.5 L310,591 L312,613.5 L311,618.5 L315,633.5 L317,651 L323.5,663.5 L333.5,673.5 L338.5,686 L346,701 L351,711 L356,712 L366,718.5 L376,722 L391,727 L400,732" fill="none" stroke="#000" stroke-width="1.5" stroke-linejoin="round"/>
<path d="M492,-2 L496,15 L497,32.5 L500,50 L503.5,59 L512,61 L522,70 L529.5,77.5 L537,92.5 L542,107.5 L544.5,122.5 L549.5,135 L556,142.5 L556,147.5 L558,147 L559.5,140 L569.5,150 L584.5,157.5 L594.5,165 L602,175 L613,182 L619.5,192 L627,198 L634.5,206 L641,214.5 L642.4,218.5 L641.8,222.5 L638,225.6 L630.7,229.3 L625.8,233 L622.7,234.2 L623.5,235.8 L627,234.6 L634.4,233 L639.3,236 L644.5,238 L649.5,247 L657,256 L667,262 L682,261.5 L692,256 L699.5,251 L709.5,254.5 L722,252 L732,246 L742,243 L757,243 L768,240 L788,236 L800.5,232.5 L813,224.5 L818,224 L828,227.5 L827,235 L825.5,250 L825,257.5 L830.5,260 L827,262 L822,261 L819,280 L813,295 L800.5,312.5 L793,332 L768,375 L749.5,404 L724.5,429 L707,448 L684.5,463 L667,474 L652,486.5 L637,499 L622,516.5 L612,529 L601,546 L593,553.5 L585.5,556 L578,566 L570.5,570 L567,578.5 L560.5,591 L553,606 L544,617 L540.5,631 L534,648.5 L535.5,658.5 L543,663.5 L550.5,671 L548,686 L545.5,701 L549,716 L553,732" fill="none" stroke="#000" stroke-width="1.5" stroke-linejoin="round"/>
<path d="M191,302.5 L199,294.5 L201,282 L205,273 L211,264 L229,261.5 L234,268 L239,278 L246,282.5 L256,281.5 L277,281 L281,287 L296,287 L305,278 L315,278 L316,269.5 L326,264 L346,278 L357,277 L383.5,247 L383.5,229.5 L378.5,226 L391,226 L391,219 L404,219 L401,232 L404,254 L416,264.5 L420.5,269.5 L418.5,283 L423,283" fill="none" stroke="#000" stroke-width="1.6" stroke-linejoin="round"/>
<path d="M423,283 L427,269.5 L428,257 L435,250 L441,253 L443.5,248 L445,232 L453.5,219.5 L461,207.5 L471,206 L473,197 L478,182 L480,174 L481,167.5" fill="none" stroke="#000" stroke-width="1.6" stroke-linejoin="round"/>
<path d="M481,167.5 L480,146 L490,110 L492,100 L500,99 L502.5,97 L503.5,94 L507.5,92 L512,89.5 L518,88 L522.5,86 L525,81 L528,76" fill="none" stroke="#000" stroke-width="1.6" stroke-linejoin="round"/>
<path d="M481,167.5 L493.5,165 L497,164 L502,170 L512,156 L524.5,164 L542,161 L549.5,164 L561,161 L574.5,167.5 L584.5,175 L592,182 L604.5,193 L614.5,206 L619.5,211" fill="none" stroke="#000" stroke-width="1.6" stroke-linejoin="round"/>
<path d="M619.5,211 L628,213 L634.5,206" fill="none" stroke="#000" stroke-width="1.6" stroke-linejoin="round"/>
<path d="M619.5,211 L612,223 L606,231 L606,248 L622,246.5 L632,247.5" fill="none" stroke="#000" stroke-width="1.6" stroke-linejoin="round"/>
<path d="M632,247.5 L639.5,236" fill="none" stroke="#000" stroke-width="1.6" stroke-linejoin="round"/>
<path d="M632,247.5 L626,257 L632,268 L642,282 L657,294.5 L727,319 L751,319 L707,364 L680,391.5 L657,391.5 L642,395 L633,401.5 L629.5,407 L612,410 L606,415" fill="none" stroke="#000" stroke-width="1.6" stroke-linejoin="round"/>
<path d="M606,415 L586,441.5 L586,528 L599.5,546 L601,546" fill="none" stroke="#000" stroke-width="1.6" stroke-linejoin="round"/>
<path d="M465,399 L468.5,400 L488.5,403 L512,418 L517,423 L537,424 L549.5,429.5 L561,416.5 L581,408 L589.5,415 L606,415" fill="none" stroke="#000" stroke-width="1.6" stroke-linejoin="round"/>
<path d="M423,283 L423.5,304.5 L416,309 L403.5,308 L402,314.5 L397,319.5 L400,324 L412,327 L421,333 L423.5,339.5 L435,348 L443.5,354.5 L445,364 L447,373 L452,380 L463.5,381.5 L465,396.5 L465,399" fill="none" stroke="#000" stroke-width="1.6" stroke-linejoin="round"/>
<path d="M422,409 L431,399 L451,380" fill="none" stroke="#000" stroke-width="1.6" stroke-linejoin="round"/>
<path d="M431,399 L465,399" fill="none" stroke="#000" stroke-width="1.6" stroke-linejoin="round"/>
<path d="M347,424 L353.5,419.5 L363.5,421 L370,418 L376,424 L386,419.5 L398.5,416.5 L408.5,419 L422,409" fill="none" stroke="#000" stroke-width="1.6" stroke-linejoin="round"/>
<path d="M422,409 L423,410 L428.5,418 L432,431.5 L441,444 L445,464 L440,476.5 L431,486.5 L423.5,498 L420,506.5 L419,531.5" fill="none" stroke="#000" stroke-width="1.6" stroke-linejoin="round"/>
<path d="M337,531.5 L420,531.5 L446,546 L507,580 L508,586 L505.5,591 L544,617" fill="none" stroke="#000" stroke-width="1.6" stroke-linejoin="round"/>
<path d="M337,531.5 L331,539 L323.5,543 L317,539" fill="none" stroke="#000" stroke-width="1.6" stroke-linejoin="round"/>
<path d="M337,531.5 L343.5,548.5 L346,556 L345,562" fill="none" stroke="#000" stroke-width="1.6" stroke-linejoin="round"/>
<path d="M345,562 L336,565 L327,563.5 L323.5,572 L312,575 L305,570" fill="none" stroke="#000" stroke-width="1.6" stroke-linejoin="round"/>
<path d="M345,562 L338.5,571 L340,577 L346,580 L345,586 L340,592 L331,603.5 L321,612 L312,613.5" fill="none" stroke="#000" stroke-width="1.6" stroke-linejoin="round"/>
<path d="M542,-2 L553,19 L571,25 L581,37.5 L599.5,77.5 L612,90 L622,106 L627.5,122.5 L626,136 L634.5,170 L639.5,182 L637,192 L644.5,203 L657,206.5 L672,204.5 L687,201 L697,191.5 L719.5,192.5 L729.5,191 L741,182 L747,176 L768,172.5 L800,160 L837,142" fill="none" stroke="#666" stroke-width="0.7" stroke-linejoin="round"/>
<path d="M369.4,512.5 L382.5,505 L396.25,502.5 L407.5,502.5 L418.1,505.6 L422.5,508.1 L426.9,517.5 L421.25,531.25 L418.1,540 L403.75,557.5 L416.25,559.4 L407.5,567.5 L390,566.25 L380,563.1 L369.4,573.1 L366.25,557.5 L368.75,533.75 L366.25,526.25 Z" fill="none" stroke="#3c3c00" stroke-opacity="0.8" stroke-width="0.55"/>
<path d="M303,572 L305,601 L306,626 L310,648.5 L321,671 L331,681 L340,706 L340,712 L351,715" fill="none" stroke="#555" stroke-width="0.6"/>
<path d="M310,591 L321,628.5 L326,643.5 L321,653.5 L340,671 L340,681 L351,711" fill="none" stroke="#555" stroke-width="0.6"/>
<path d="M794.5,333 L769.5,376 L751,405.5 L726,430.5 L708.5,449.5 L686,464.5 L668.5,475.5" fill="none" stroke="#555" stroke-width="0.5"/>
<path d="M553.5,624 L557,623.2 L559.2,626 L558.6,632 L556.5,637 L553.2,637.6 L552.6,632 L553,627.5 Z" fill="#fff" stroke="#000" stroke-width="1.2" stroke-linejoin="round"/>
<path d="M544,644 L546.5,643.2 L548.5,646 L549.5,651 L552.3,655.5 L552,660.5 L548.5,660 L544.8,656.5 L543.2,651.5 L543,647 Z" fill="#fff" stroke="#000" stroke-width="1.2" stroke-linejoin="round"/>
<path d="M553.2,698.5 L556,694 L560.5,689 L560.5,692.5 L557.5,698.5 L554.5,699.3 Z" fill="#fff" stroke="#000" stroke-width="1.2" stroke-linejoin="round"/>
<path d="M582,561 L584,556.5 L583,553.5 L586,555 L588.5,552.5 L588.5,555.5 L592,555 L589,558 L586.5,559.5 L585,562 Z" fill="#000"/>
<g fill="#000"><circle cx="508.8" cy="45.6" r="0.65"/><circle cx="515.6" cy="46.9" r="0.60"/><circle cx="519.4" cy="46.2" r="0.75"/><circle cx="511.2" cy="48.8" r="0.57"/><circle cx="520.0" cy="50.6" r="0.71"/><circle cx="509.4" cy="54.4" r="0.66"/><circle cx="521.9" cy="53.1" r="0.57"/><circle cx="529.4" cy="54.4" r="0.70"/><circle cx="533.1" cy="56.2" r="0.56"/><circle cx="515.0" cy="56.9" r="0.68"/><circle cx="518.8" cy="56.2" r="0.57"/><circle cx="507.5" cy="57.5" r="0.58"/><circle cx="526.9" cy="58.1" r="0.68"/><circle cx="521.2" cy="61.2" r="0.80"/><circle cx="530.6" cy="63.1" r="0.59"/><circle cx="534.4" cy="61.2" r="0.62"/><circle cx="533.1" cy="63.8" r="0.74"/><circle cx="525.6" cy="65.6" r="0.83"/><circle cx="532.5" cy="67.5" r="0.72"/><circle cx="555.8" cy="137.1" r="0.73"/><circle cx="567.2" cy="125.2" r="0.80"/><circle cx="567.7" cy="131.5" r="1.27"/><circle cx="567.3" cy="134.7" r="1.15"/><circle cx="561.3" cy="133.2" r="0.74"/><circle cx="567.7" cy="129.8" r="1.18"/><circle cx="561.7" cy="130.5" r="1.11"/><circle cx="561.6" cy="129.8" r="1.26"/><circle cx="564.0" cy="124.8" r="1.10"/><circle cx="556.5" cy="126.8" r="1.21"/><circle cx="568.2" cy="132.2" r="1.23"/><circle cx="567.8" cy="133.4" r="0.73"/><circle cx="561.5" cy="120.8" r="1.10"/><circle cx="567.6" cy="125.3" r="1.19"/><circle cx="560.4" cy="124.7" r="1.02"/><circle cx="570.4" cy="117.9" r="1.03"/><circle cx="564.2" cy="126.9" r="1.19"/><circle cx="557.0" cy="115.4" r="1.28"/><circle cx="564.1" cy="133.5" r="1.17"/><circle cx="569.6" cy="129.3" r="0.82"/><circle cx="566.1" cy="129.7" r="1.24"/><circle cx="567.2" cy="131.3" r="0.97"/><circle cx="566.2" cy="127.0" r="1.01"/><circle cx="556.7" cy="125.2" r="1.27"/><circle cx="567.2" cy="125.3" r="0.99"/><circle cx="559.5" cy="136.9" r="1.37"/><circle cx="566.5" cy="131.1" r="0.86"/><circle cx="565.5" cy="134.5" r="1.11"/><circle cx="565.0" cy="129.0" r="0.99"/><circle cx="561.3" cy="133.4" r="1.37"/><circle cx="563.2" cy="122.7" r="1.13"/><circle cx="564.4" cy="127.0" r="1.33"/><circle cx="566.6" cy="118.1" r="1.26"/><circle cx="561.7" cy="131.8" r="0.77"/><circle cx="564.0" cy="127.1" r="0.75"/><circle cx="565.6" cy="131.5" r="0.94"/><circle cx="565.1" cy="128.5" r="0.81"/><circle cx="568.2" cy="131.4" r="0.72"/><circle cx="569.1" cy="123.4" r="0.80"/><circle cx="564.9" cy="133.3" r="0.95"/><circle cx="570.9" cy="135.6" r="1.40"/><circle cx="560.3" cy="129.8" r="0.76"/><circle cx="568.1" cy="131.4" r="0.89"/><circle cx="566.2" cy="125.8" r="0.72"/><circle cx="569.9" cy="126.6" r="0.80"/><circle cx="564.1" cy="128.2" r="1.07"/><circle cx="573.3" cy="127.1" r="1.19"/><circle cx="564.7" cy="133.5" r="0.82"/><circle cx="565.7" cy="122.1" r="1.25"/><circle cx="563.6" cy="131.7" r="1.27"/><circle cx="573.2" cy="127.5" r="1.26"/><circle cx="567.9" cy="120.7" r="0.86"/><circle cx="561.1" cy="128.0" r="0.72"/><circle cx="568.3" cy="129.2" r="0.88"/><circle cx="561.3" cy="116.3" r="1.01"/><circle cx="576.5" cy="122.5" r="1.37"/><circle cx="563.0" cy="131.3" r="0.86"/><circle cx="565.9" cy="131.8" r="1.14"/><circle cx="571.5" cy="122.7" r="1.04"/><circle cx="560.7" cy="120.9" r="0.76"/><circle cx="560.1" cy="118.8" r="1.25"/><circle cx="565.0" cy="122.6" r="0.82"/><circle cx="565.9" cy="124.0" r="1.26"/><circle cx="569.1" cy="127.6" r="0.98"/><circle cx="571.4" cy="125.8" r="0.82"/><circle cx="566.7" cy="130.6" r="1.33"/><circle cx="565.8" cy="125.8" r="1.28"/><circle cx="571.1" cy="127.6" r="0.95"/><circle cx="562.9" cy="127.7" r="0.71"/><circle cx="571.0" cy="127.1" r="1.07"/><circle cx="569.1" cy="126.3" r="1.31"/><circle cx="566.3" cy="125.3" r="0.88"/><circle cx="564.2" cy="132.2" r="1.11"/><circle cx="564.7" cy="133.9" r="0.79"/><circle cx="568.3" cy="125.9" r="1.02"/><circle cx="557.1" cy="122.9" r="0.99"/><circle cx="569.3" cy="125.5" r="1.07"/><circle cx="564.2" cy="128.4" r="1.01"/><circle cx="565.2" cy="128.9" r="1.26"/><circle cx="567.2" cy="133.7" r="1.21"/><circle cx="561.5" cy="126.9" r="1.06"/><circle cx="558.1" cy="125.4" r="0.77"/><circle cx="562.1" cy="127.0" r="0.89"/><circle cx="565.7" cy="122.4" r="1.09"/><circle cx="565.6" cy="117.0" r="1.01"/><circle cx="561.2" cy="124.5" r="1.06"/><circle cx="563.4" cy="123.2" r="1.07"/><circle cx="555.1" cy="130.2" r="1.19"/><circle cx="572.2" cy="119.8" r="0.88"/><circle cx="555.6" cy="123.9" r="1.29"/><circle cx="566.4" cy="130.5" r="1.01"/><circle cx="567.8" cy="130.2" r="0.75"/><circle cx="561.4" cy="120.5" r="1.33"/><circle cx="568.8" cy="135.3" r="1.16"/><circle cx="570.4" cy="136.9" r="1.38"/><circle cx="561.1" cy="132.1" r="1.39"/><circle cx="566.2" cy="125.8" r="1.00"/><circle cx="561.2" cy="128.0" r="0.84"/><circle cx="562.2" cy="136.1" r="0.71"/><circle cx="560.7" cy="126.6" r="0.71"/><circle cx="562.1" cy="134.8" r="1.06"/><circle cx="576.2" cy="134.4" r="1.25"/><circle cx="566.9" cy="128.1" r="0.89"/><circle cx="572.1" cy="130.7" r="0.89"/><circle cx="568.0" cy="132.5" r="1.34"/><circle cx="566.4" cy="124.8" r="0.80"/><circle cx="569.8" cy="125.2" r="1.19"/><circle cx="566.2" cy="129.5" r="1.18"/><circle cx="563.5" cy="129.4" r="1.36"/><circle cx="560.0" cy="121.5" r="0.76"/><circle cx="566.0" cy="127.0" r="1.30"/><circle cx="561.3" cy="129.9" r="1.09"/><circle cx="568.0" cy="126.7" r="0.79"/><circle cx="561.9" cy="127.9" r="0.78"/><circle cx="565.7" cy="129.9" r="0.84"/><circle cx="563.6" cy="132.6" r="1.23"/><circle cx="563.8" cy="134.4" r="0.82"/><circle cx="564.5" cy="129.3" r="0.88"/><circle cx="582.3" cy="132.5" r="0.80"/><circle cx="576.9" cy="135.7" r="0.97"/><circle cx="581.5" cy="136.0" r="0.74"/><circle cx="566.5" cy="132.2" r="0.73"/><circle cx="568.1" cy="131.8" r="0.99"/><circle cx="570.3" cy="137.5" r="0.87"/><circle cx="572.0" cy="129.3" r="0.71"/><circle cx="577.2" cy="132.6" r="0.58"/><circle cx="574.8" cy="129.3" r="0.62"/><circle cx="582.4" cy="135.4" r="0.94"/><circle cx="573.2" cy="129.5" r="0.66"/><circle cx="573.7" cy="135.7" r="0.62"/><circle cx="571.7" cy="132.9" r="0.98"/><circle cx="580.6" cy="131.2" r="0.66"/><circle cx="578.8" cy="131.4" r="0.71"/><circle cx="579.4" cy="132.0" r="0.76"/><circle cx="572.0" cy="132.0" r="0.78"/><circle cx="578.5" cy="132.1" r="0.59"/><circle cx="573.9" cy="132.6" r="0.56"/><circle cx="573.9" cy="134.4" r="0.81"/><circle cx="567.6" cy="130.9" r="0.85"/><circle cx="573.0" cy="125.0" r="0.73"/><circle cx="569.0" cy="141.0" r="0.62"/><circle cx="574.0" cy="127.0" r="0.57"/><circle cx="579.8" cy="125.7" r="0.83"/><circle cx="574.2" cy="125.6" r="0.61"/><circle cx="553.3" cy="119.1" r="0.65"/><circle cx="557.3" cy="124.9" r="0.58"/><circle cx="558.5" cy="122.3" r="0.61"/><circle cx="549.2" cy="110.6" r="0.44"/><circle cx="551.0" cy="111.9" r="0.65"/><circle cx="553.8" cy="121.3" r="0.59"/><circle cx="555.5" cy="118.8" r="0.40"/><circle cx="557.2" cy="123.5" r="0.55"/><circle cx="553.5" cy="121.9" r="0.42"/><circle cx="556.3" cy="114.5" r="0.42"/><circle cx="549.7" cy="123.1" r="0.46"/><circle cx="556.4" cy="127.6" r="0.55"/><circle cx="551.4" cy="118.6" r="0.61"/><circle cx="556.7" cy="121.1" r="0.59"/><circle cx="563.8" cy="143.0" r="1.25"/><circle cx="567.4" cy="144.8" r="0.84"/><circle cx="566.3" cy="143.1" r="1.21"/><circle cx="566.3" cy="144.6" r="1.08"/><circle cx="564.6" cy="142.4" r="1.39"/><circle cx="579.7" cy="151.9" r="1.29"/><circle cx="578.8" cy="152.4" r="0.93"/><circle cx="579.3" cy="153.2" r="0.89"/><circle cx="571.8" cy="147.1" r="1.29"/><circle cx="572.1" cy="146.1" r="0.94"/><circle cx="578.0" cy="151.4" r="0.80"/><circle cx="570.2" cy="147.2" r="0.88"/><circle cx="567.6" cy="147.0" r="0.80"/><circle cx="575.7" cy="149.3" r="1.36"/><circle cx="575.4" cy="148.9" r="1.02"/><circle cx="570.1" cy="145.8" r="1.02"/><circle cx="569.7" cy="146.5" r="0.86"/><circle cx="576.6" cy="153.0" r="0.95"/><circle cx="566.3" cy="144.4" r="1.02"/><circle cx="580.3" cy="150.8" r="1.18"/><circle cx="579.4" cy="151.1" r="1.23"/><circle cx="562.8" cy="141.0" r="1.25"/><circle cx="573.5" cy="148.9" r="1.36"/><circle cx="563.6" cy="143.1" r="0.98"/><circle cx="575.9" cy="149.5" r="1.19"/><circle cx="566.7" cy="144.5" r="0.90"/><circle cx="565.4" cy="145.4" r="1.10"/><circle cx="568.2" cy="142.1" r="1.07"/><circle cx="564.6" cy="143.4" r="1.01"/><circle cx="563.7" cy="143.3" r="1.14"/><circle cx="551.0" cy="702.0" r="0.50"/><circle cx="553.0" cy="706.0" r="0.50"/><circle cx="552.0" cy="711.0" r="0.50"/><circle cx="554.0" cy="714.0" r="0.50"/><circle cx="560.0" cy="671.5" r="0.50"/><circle cx="627.0" cy="199.0" r="0.90"/><circle cx="628.5" cy="200.5" r="0.90"/><circle cx="630.0" cy="202.0" r="0.90"/><circle cx="631.5" cy="203.5" r="0.90"/><circle cx="629.0" cy="198.5" r="0.90"/><circle cx="633.0" cy="205.0" r="0.90"/><circle cx="623.5" cy="233.5" r="0.90"/></g>
<rect x="606.5" y="524" width="7" height="8" fill="#fff"/>
</g>
<g stroke="#000" stroke-width="1.15" fill="none">
<line x1="129.5" y1="0" x2="129.5" y2="730"/>
<line x1="836.4" y1="0" x2="836.4" y2="730"/>
<line x1="108" y1="26.55" x2="129.5" y2="26.55"/>
<line x1="108" y1="150.4" x2="129.5" y2="150.4"/>
<line x1="108" y1="271.4" x2="129.5" y2="271.4"/>
<line x1="108" y1="390.4" x2="129.5" y2="390.4"/>
<line x1="108" y1="508.6" x2="129.5" y2="508.6"/>
<line x1="108" y1="626.8" x2="129.5" y2="626.8"/>
</g>
<text x="89.1" y="37.25" font-size="29.3" text-anchor="end">20°N</text>
<text x="89.1" y="161.1" font-size="29.3" text-anchor="end">15°N</text>
<text x="89.1" y="282.1" font-size="29.3" text-anchor="end">10°N</text>
<text x="89.1" y="401.1" font-size="29.3" text-anchor="end">5°N</text>
<text x="89" y="519.3" font-size="29.3" text-anchor="end">0°</text>
<text x="89.1" y="637.5" font-size="29.3" text-anchor="end">5°S</text>
<rect x="881.5" y="-5" width="42.1" height="73.2" fill="#228b22"/>
<rect x="881.5" y="68.2" width="42.1" height="119.6" fill="#66cd00"/>
<rect x="881.5" y="187.8" width="42.1" height="119.4" fill="#00ff00"/>
<rect x="881.5" y="307.2" width="42.1" height="119.3" fill="#caff70"/>
<rect x="881.5" y="426.5" width="42.1" height="119.3" fill="#ffff00"/>
<rect x="881.5" y="545.8" width="42.1" height="119.2" fill="#ffa500"/>
<rect x="881.5" y="665" width="42.1" height="70" fill="#d9d9d9"/>
<g stroke="#000" stroke-width="0.6" fill="none">
<line x1="881.5" y1="0" x2="881.5" y2="730"/><line x1="923.6" y1="0" x2="923.6" y2="730"/>
<line x1="881.5" y1="68.2" x2="923.6" y2="68.2"/>
<line x1="881.5" y1="187.8" x2="923.6" y2="187.8"/>
<line x1="881.5" y1="307.2" x2="923.6" y2="307.2"/>
<line x1="881.5" y1="426.5" x2="923.6" y2="426.5"/>
<line x1="881.5" y1="545.8" x2="923.6" y2="545.8"/>
<line x1="881.5" y1="665" x2="923.6" y2="665"/>
</g>
<text x="955.8" y="77.1" font-size="24.6" text-anchor="middle">200</text>
<text x="955.8" y="196.7" font-size="24.6" text-anchor="middle">100</text>
<text x="955.8" y="316.1" font-size="24.6" text-anchor="middle">50</text>
<text x="955.8" y="435.4" font-size="24.6" text-anchor="middle">30</text>
<text x="955.8" y="554.7" font-size="24.6" text-anchor="middle">10</text>
<text x="955.8" y="673.9" font-size="24.6" text-anchor="middle">1</text>
<g id="logo">
<rect x="720" y="0" width="100" height="57.5" fill="#fefefb"/>
<circle cx="770.0" cy="7.0" r="49.8" fill="none" stroke="#1f8446" stroke-width="0.7" stroke-opacity="0.75"/>
<circle cx="770.0" cy="7.0" r="40.9" fill="none" stroke="#1f8446" stroke-width="0.45" stroke-opacity="0.75"/>
<circle cx="770.0" cy="7.0" r="39.3" fill="none" stroke="#1f8446" stroke-width="0.45" stroke-opacity="0.75"/>
<polygon points="725.30,6.70 725.94,8.42 727.77,8.50 726.34,9.64 726.83,11.40 725.30,10.39 723.77,11.40 724.26,9.64 722.83,8.50 724.66,8.42" fill="#1f8446"/>
<polygon points="814.20,6.70 814.84,8.42 816.67,8.50 815.24,9.64 815.73,11.40 814.20,10.39 812.67,11.40 813.16,9.64 811.73,8.50 813.56,8.42" fill="#1f8446"/>
<path id="arcp" d="M723.37,16.06 A47.5,47.5 0 0 0 816.63,16.06" fill="none"/>
<text font-size="5.6" font-weight="bold" style="fill:#1f8446;stroke:#1f8446;stroke-width:0.22" textLength="131.0" lengthAdjust="spacingAndGlyphs"><textPath href="#arcp" textLength="131.0" lengthAdjust="spacingAndGlyphs">AUTORITE INTERGOUVERNEMENTALE POUR LE DEVELOPPEMENT</textPath></text>
<ellipse cx="739.92" cy="-2.76" rx="4.1" ry="1.45" transform="rotate(-44.0 739.92 -2.76)" fill="#1f8446"/>
<ellipse cx="736.27" cy="-3.81" rx="4.1" ry="1.45" transform="rotate(-104.0 736.27 -3.81)" fill="#1f8446"/>
<ellipse cx="738.42" cy="5.36" rx="4.1" ry="1.45" transform="rotate(-59.0 738.42 5.36)" fill="#1f8446"/>
<ellipse cx="734.62" cy="5.29" rx="4.1" ry="1.45" transform="rotate(-119.0 734.62 5.29)" fill="#1f8446"/>
<ellipse cx="739.07" cy="13.59" rx="4.1" ry="1.45" transform="rotate(-74.0 739.07 13.59)" fill="#1f8446"/>
<ellipse cx="735.39" cy="14.51" rx="4.1" ry="1.45" transform="rotate(-134.0 735.39 14.51)" fill="#1f8446"/>
<ellipse cx="741.83" cy="21.37" rx="4.1" ry="1.45" transform="rotate(-89.0 741.83 21.37)" fill="#1f8446"/>
<ellipse cx="738.51" cy="23.21" rx="4.1" ry="1.45" transform="rotate(-149.0 738.51 23.21)" fill="#1f8446"/>
<ellipse cx="746.51" cy="28.17" rx="4.1" ry="1.45" transform="rotate(-104.0 746.51 28.17)" fill="#1f8446"/>
<ellipse cx="743.78" cy="30.81" rx="4.1" ry="1.45" transform="rotate(-164.0 743.78 30.81)" fill="#1f8446"/>
<ellipse cx="752.33" cy="33.22" rx="4.1" ry="1.45" transform="rotate(-118.0 752.33 33.22)" fill="#1f8446"/>
<ellipse cx="750.32" cy="36.44" rx="4.1" ry="1.45" transform="rotate(-178.0 750.32 36.44)" fill="#1f8446"/>
<ellipse cx="759.20" cy="36.72" rx="4.1" ry="1.45" transform="rotate(-132.0 759.20 36.72)" fill="#1f8446"/>
<ellipse cx="758.02" cy="40.33" rx="4.1" ry="1.45" transform="rotate(-192.0 758.02 40.33)" fill="#1f8446"/>
<ellipse cx="800.08" cy="-2.76" rx="4.1" ry="1.45" transform="rotate(224.0 800.08 -2.76)" fill="#1f8446"/>
<ellipse cx="803.73" cy="-3.81" rx="4.1" ry="1.45" transform="rotate(284.0 803.73 -3.81)" fill="#1f8446"/>
<ellipse cx="801.58" cy="5.36" rx="4.1" ry="1.45" transform="rotate(239.0 801.58 5.36)" fill="#1f8446"/>
<ellipse cx="805.38" cy="5.29" rx="4.1" ry="1.45" transform="rotate(299.0 805.38 5.29)" fill="#1f8446"/>
<ellipse cx="800.93" cy="13.59" rx="4.1" ry="1.45" transform="rotate(254.0 800.93 13.59)" fill="#1f8446"/>
<ellipse cx="804.61" cy="14.51" rx="4.1" ry="1.45" transform="rotate(314.0 804.61 14.51)" fill="#1f8446"/>
<ellipse cx="798.17" cy="21.37" rx="4.1" ry="1.45" transform="rotate(269.0 798.17 21.37)" fill="#1f8446"/>
<ellipse cx="801.49" cy="23.21" rx="4.1" ry="1.45" transform="rotate(329.0 801.49 23.21)" fill="#1f8446"/>
<ellipse cx="793.49" cy="28.17" rx="4.1" ry="1.45" transform="rotate(284.0 793.49 28.17)" fill="#1f8446"/>
<ellipse cx="796.22" cy="30.81" rx="4.1" ry="1.45" transform="rotate(344.0 796.22 30.81)" fill="#1f8446"/>
<ellipse cx="787.67" cy="33.22" rx="4.1" ry="1.45" transform="rotate(298.0 787.67 33.22)" fill="#1f8446"/>
<ellipse cx="789.68" cy="36.44" rx="4.1" ry="1.45" transform="rotate(358.0 789.68 36.44)" fill="#1f8446"/>
<ellipse cx="780.80" cy="36.72" rx="4.1" ry="1.45" transform="rotate(312.0 780.80 36.72)" fill="#1f8446"/>
<ellipse cx="781.98" cy="40.33" rx="4.1" ry="1.45" transform="rotate(372.0 781.98 40.33)" fill="#1f8446"/>
<path d="M761,39.2 Q768,40 775.5,44.6 M779,39.2 Q772,40 764.5,44.6" stroke="#1f8446" stroke-width="0.5" fill="none"/>
<polygon points="751.1,-1 751.1,3.9 751.9,7.8 753.4,10.2 756.6,11.7 761.3,10.9 764.4,10.9 766.7,13.3 768.3,16.4 769.1,21.9 769.8,27.3 771.4,31.3 773.75,34 776.9,32.8 780,29.7 782.3,25 783.9,21.1 784.3,18 783.1,16.4 780.8,15.2 777.7,14.8 776.5,11.7 773.75,8.6 772.2,5.5 773.4,2.3 773.75,-1" fill="#1f8446"/>
<polygon points="773.75,-1 773.4,2.3 772.2,5.5 773.75,8.6 776.5,11.7 777.7,14.8 780.8,15.2 783.5,16.8 785.5,14.1 787.8,10.9 790.2,7 787,7.4 784.7,5.5 782.3,2.3 781.2,-1" fill="#e9b34c"/>
<polygon points="785.5,27.3 786.25,23.4 788.2,21.5 789,22.7 787.8,26.6 786.6,28.1" fill="#1f8446"/>
<line x1="745.62" x2="757.34" y1="2.73" y2="2.73" stroke="#1f8446" stroke-width="1.2"/>
<line x1="745.62" x2="751.09" y1="6.25" y2="6.25" stroke="#e9b34c" stroke-width="1.2"/>
<line x1="751.88" x2="757.34" y1="7.42" y2="7.42" stroke="#1f8446" stroke-width="1.2"/>
<line x1="748.36" x2="753.44" y1="10.16" y2="10.16" stroke="#1f8446" stroke-width="1.2"/>
<line x1="760.47" x2="765.94" y1="14.45" y2="14.45" stroke="#e9b34c" stroke-width="1.2"/>
<line x1="765.94" x2="772.19" y1="14.45" y2="14.45" stroke="#1f8446" stroke-width="1.2"/>
<line x1="762.81" x2="774.53" y1="18.36" y2="18.36" stroke="#1f8446" stroke-width="1.2"/>
<line x1="762.81" x2="768.28" y1="22.27" y2="22.27" stroke="#e9b34c" stroke-width="1.2"/>
<line x1="768.28" x2="774.53" y1="22.27" y2="22.27" stroke="#1f8446" stroke-width="1.2"/>
<line x1="763.20" x2="775.31" y1="25.78" y2="25.78" stroke="#1f8446" stroke-width="1.2"/>
<line x1="766.33" x2="769.84" y1="29.69" y2="29.69" stroke="#e9b34c" stroke-width="1.2"/>
<line x1="769.84" x2="776.09" y1="29.69" y2="29.69" stroke="#1f8446" stroke-width="1.2"/>
<line x1="766.33" x2="773.75" y1="33.44" y2="33.44" stroke="#1f8446" stroke-width="1.2"/>
</g>
</svg>
</body></html>
